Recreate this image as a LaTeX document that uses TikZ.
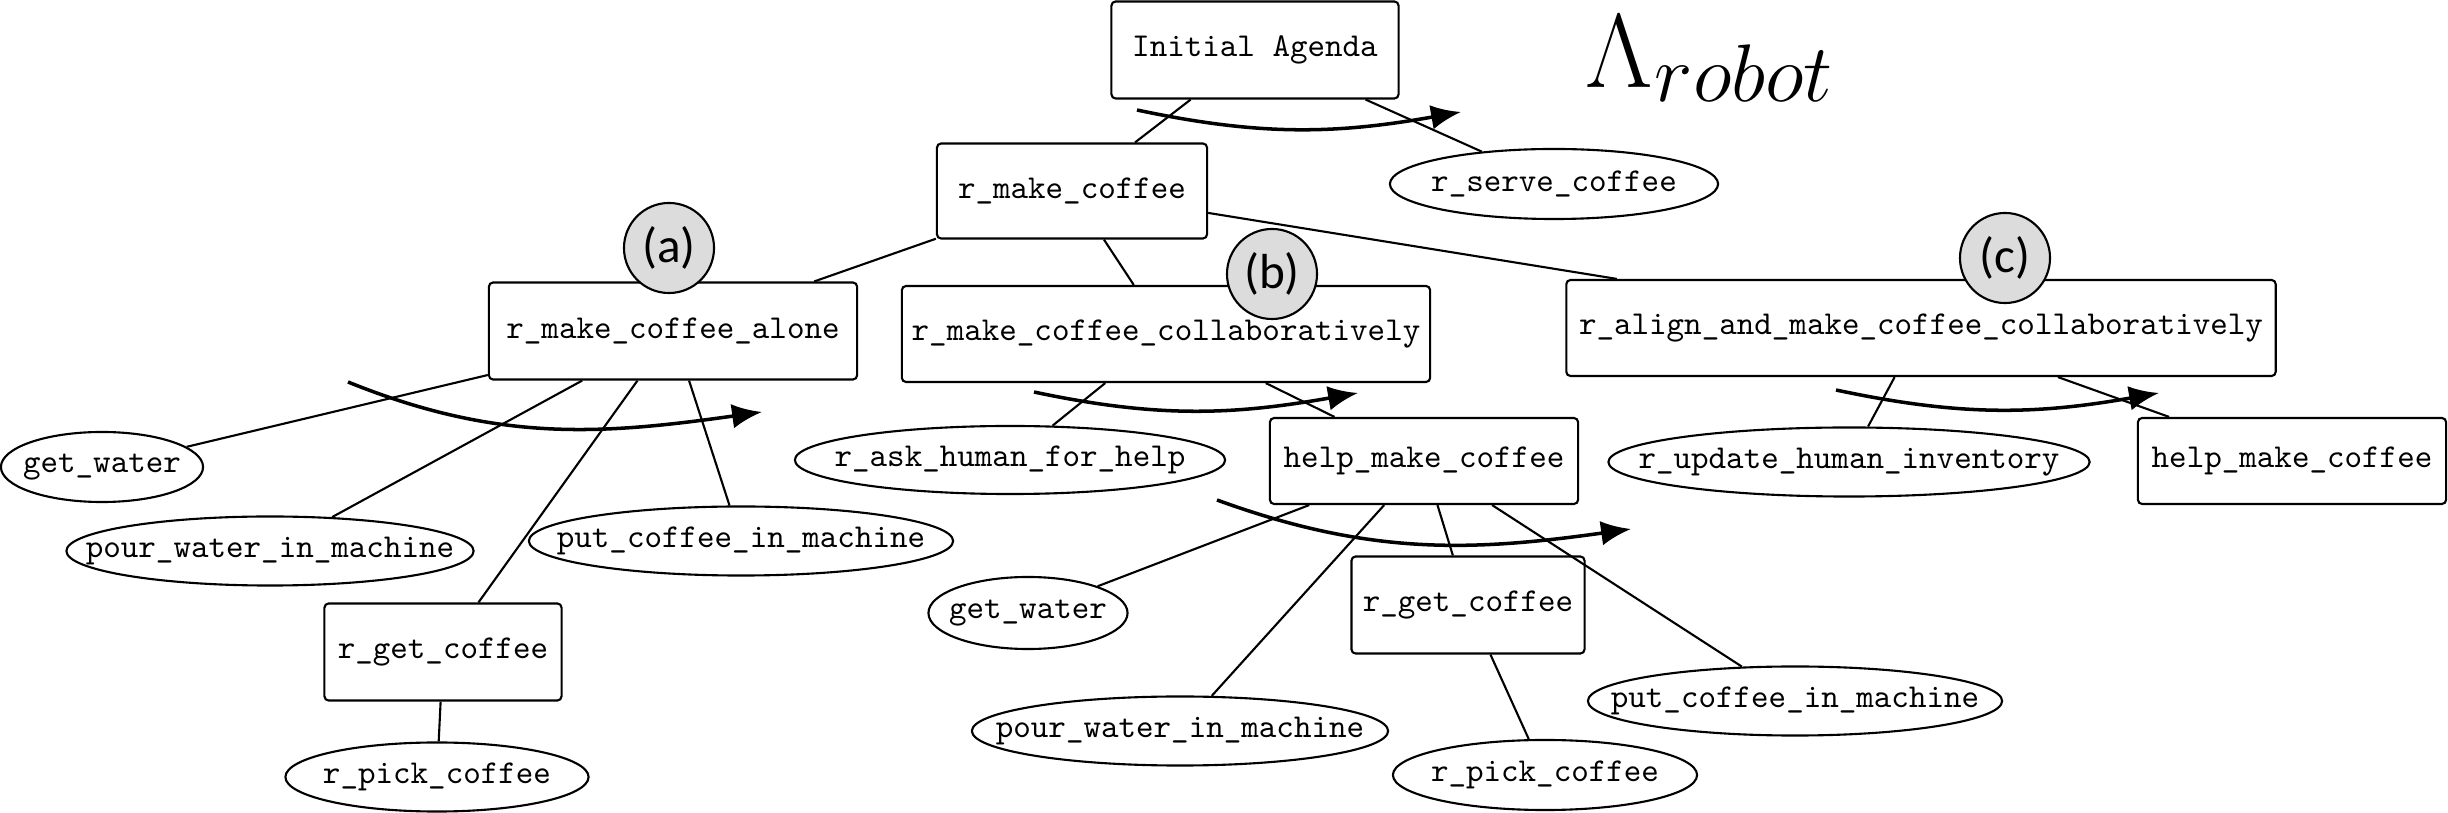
\documentclass[tikz,border=0pt]{standalone}
\usepackage{graphicx}
\usepackage{fontspec}
\newfontfamily\badgefam{Carlito}
\usetikzlibrary{shapes.geometric,arrows.meta}
\definecolor{badgegray}{HTML}{DCDCDC}
\newcommand{\ET}[1]{\makebox[0pt]{#1}}
\begin{document}
\begin{tikzpicture}[x=0.01cm,y=-0.01cm,
  box/.style={draw, rounded corners=1.2pt, line width=0.6pt, inner sep=0pt, font=\fontsize{9.5}{11}\selectfont\ttfamily},
  ell/.style={draw, ellipse, line width=0.6pt, inner sep=0pt, font=\fontsize{9.5}{11}\selectfont\ttfamily},
  badge/.style={circle, draw, fill=badgegray, line width=0.6pt, minimum size=0.9cm, inner sep=0pt, font=\fontsize{14}{16}\selectfont\badgefam},
  edge/.style={line width=0.6pt},
  flow/.style={line width=1pt, -{Latex[length=8.5pt,width=7pt]}}]
\useasboundingbox (0,0) rectangle (2448,813);

% nodes
\node[box, minimum width=2.87cm, minimum height=0.97cm] (IA) at (1255,50) {Initial Agenda};
\node[box, minimum width=2.70cm, minimum height=0.95cm] (rmc) at (1072,191) {r\_make\_coffee};
\node[ell, minimum width=3.28cm, minimum height=0.70cm] (rsc) at (1554,184) {\ET{r\_serve\_coffee}};

\node[box, minimum width=3.68cm, minimum height=0.97cm] (rmca) at (673,331) {r\_make\_coffee\_alone};
\node[ell, minimum width=2.02cm, minimum height=0.70cm] (gw1) at (102,467) {\ET{get\_water}};
\node[ell, minimum width=4.07cm, minimum height=0.69cm] (pw1) at (270,551) {\ET{pour\_water\_in\_machine}};
\node[ell, minimum width=4.24cm, minimum height=0.69cm] (pc1) at (741,541) {\ET{put\_coffee\_in\_machine}};
\node[box, minimum width=2.37cm, minimum height=0.97cm] (rgc1) at (443,652) {r\_get\_coffee};
\node[ell, minimum width=3.03cm, minimum height=0.69cm] (rpc1) at (437,777) {\ET{r\_pick\_coffee}};

\node[box, minimum width=5.28cm, minimum height=0.96cm] (rmcc) at (1166,334) {r\_make\_coffee\_collaboratively};
\node[ell, minimum width=4.30cm, minimum height=0.68cm] (rah) at (1010,460) {\ET{r\_ask\_human\_for\_help}};
\node[box, minimum width=3.08cm, minimum height=0.86cm] (hmc1) at (1424,461) {help\_make\_coffee};
\node[ell, minimum width=1.99cm, minimum height=0.72cm] (gw2) at (1028,613) {\ET{get\_water}};
\node[ell, minimum width=4.16cm, minimum height=0.69cm] (pw2) at (1180,731) {\ET{pour\_water\_in\_machine}};
\node[box, minimum width=2.33cm, minimum height=0.97cm] (rgc2) at (1468,605) {r\_get\_coffee};
\node[ell, minimum width=4.14cm, minimum height=0.69cm] (pc2) at (1795,701) {\ET{put\_coffee\_in\_machine}};
\node[ell, minimum width=3.04cm, minimum height=0.70cm] (rpc2) at (1545,775) {\ET{r\_pick\_coffee}};

\node[box, minimum width=7.09cm, minimum height=0.96cm] (ramc) at (1921,328) {r\_align\_and\_make\_coffee\_collaboratively};
\node[ell, minimum width=4.81cm, minimum height=0.69cm] (ruhi) at (1849,462) {\ET{r\_update\_human\_inventory}};
\node[box, minimum width=3.08cm, minimum height=0.86cm] (hmc2) at (2292,461) {help\_make\_coffee};

% title
\node[anchor=base west, inner sep=0pt] (title) at (1585,88)
  {\scalebox{1.2}{\fontsize{24.88}{30}\selectfont$\Lambda$}\kern0.5pt\raisebox{-3.9pt}{\scalebox{1.12}{\fontsize{20.74}{25}\selectfont$robot$}}};

% edges
\draw[edge] (IA) -- (rmc);
\draw[edge] (IA) -- (rsc);
\draw[edge] (rmc) -- (rmca);
\draw[edge] (rmc) -- (rmcc);
\draw[edge] (rmc) -- (ramc);
\draw[edge] (rmca) -- (gw1);
\draw[edge] (rmca) -- (pw1);
\draw[edge] (rmca) -- (rgc1);
\draw[edge] (rmca) -- (pc1);
\draw[edge] (rgc1) -- (rpc1);
\draw[edge] (rmcc) -- (rah);
\draw[edge] (rmcc) -- (hmc1);
\draw[edge] (hmc1) -- (gw2);
\draw[edge] (hmc1) -- (pw2);
\draw[edge] (hmc1) -- (rgc2);
\draw[edge] (hmc1) -- (pc2);
\draw[edge] (rgc2) -- (rpc2);
\draw[edge] (ramc) -- (ruhi);
\draw[edge] (ramc) -- (hmc2);

% ordering arrows
\coordinate (f0s) at (1137,110); \coordinate (f0e) at (1461,112);
\coordinate (f1s) at (348,382);  \coordinate (f1e) at (762,412);
\coordinate (f2s) at (1034,392); \coordinate (f2e) at (1358,393);
\coordinate (f3s) at (1217,500); \coordinate (f3e) at (1631,529);
\coordinate (f4s) at (1836,390); \coordinate (f4e) at (2159,393);
\draw[flow] (f0s) to[out=-12, in=190] (f0e);
\draw[flow] (f1s) to[out=-22, in=188] (f1e);
\draw[flow] (f2s) to[out=-12, in=190] (f2e);
\draw[flow] (f3s) to[out=-20, in=188] (f3e);
\draw[flow] (f4s) to[out=-12, in=190] (f4e);

% badges
\node[badge] (ba) at (669,248) {(a)};
\node[badge] (bb) at (1272,274) {(b)};
\node[badge] (bc) at (2005,258) {(c)};
\end{tikzpicture}
\end{document}
